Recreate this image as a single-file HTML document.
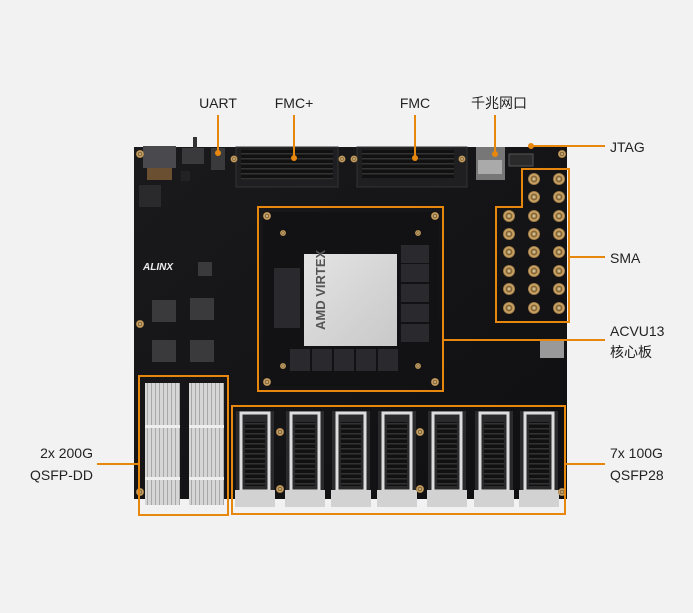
<!DOCTYPE html>
<html><head><meta charset="utf-8"><style>
html,body{margin:0;padding:0;background:#f2f2f2;}
svg{display:block}
text{font-family:"Liberation Sans","Noto Sans CJK SC",sans-serif;font-size:14px;fill:#222;}
</style></head><body>
<svg width="693" height="613" viewBox="0 0 693 613" xmlns="http://www.w3.org/2000/svg">
<defs>
<linearGradient id="bd" x1="0" y1="0" x2="1" y2="1"><stop offset="0" stop-color="#1a1a1c"/><stop offset="1" stop-color="#0f0f11"/></linearGradient>
<radialGradient id="gold"><stop offset="0" stop-color="#f0e0b0"/><stop offset="0.45" stop-color="#7a5a2a"/><stop offset="0.7" stop-color="#d9b070"/><stop offset="1" stop-color="#8a6a3a"/></radialGradient>
<linearGradient id="chip" x1="0" y1="0" x2="1" y2="1"><stop offset="0" stop-color="#e4e4e4"/><stop offset="1" stop-color="#c8c8c8"/></linearGradient>
<pattern id="fins" width="4" height="10" patternUnits="userSpaceOnUse"><rect width="4" height="10" fill="#d6d6d6"/><rect x="3" width="1" height="10" fill="#a8a8a8"/></pattern>
<pattern id="rows" width="10" height="5" patternUnits="userSpaceOnUse"><rect width="10" height="5" fill="#111"/><rect y="3" width="10" height="1.5" fill="#333"/></pattern>
</defs>
<rect width="693" height="613" fill="#f2f2f2"/>
<!-- board -->
<rect x="134" y="147" width="433" height="352" fill="url(#bd)"/>
<!-- top-left components -->
<rect x="143" y="146" width="33" height="22" fill="#4a4a4e"/>
<rect x="147" y="168" width="25" height="12" fill="#6a5030"/>
<rect x="182" y="148" width="22" height="16" fill="#3a3a3c"/>
<rect x="193" y="137" width="4" height="11" fill="#333"/>
<rect x="181" y="171" width="9" height="10" fill="#222"/>
<rect x="139" y="185" width="22" height="22" fill="#2a2a2c"/>
<rect x="211" y="148" width="14" height="22" fill="#3a3a3c"/>
<circle cx="140" cy="154" r="4" fill="url(#gold)"/>
<circle cx="140" cy="324" r="4" fill="url(#gold)"/>
<circle cx="562" cy="154" r="4" fill="url(#gold)"/>
<!-- FMC+ -->
<rect x="236" y="147" width="102" height="40" fill="#1f1f22" stroke="#333"/>
<rect x="241" y="150" width="92" height="30" fill="url(#rows)"/>
<circle cx="234" cy="159" r="3.5" fill="url(#gold)"/>
<circle cx="342" cy="159" r="3.5" fill="url(#gold)"/>
<!-- FMC -->
<rect x="357" y="147" width="110" height="40" fill="#1f1f22" stroke="#333"/>
<rect x="362" y="150" width="92" height="28" fill="url(#rows)"/>
<circle cx="354" cy="159" r="3.5" fill="url(#gold)"/>
<circle cx="462" cy="159" r="3.5" fill="url(#gold)"/>
<!-- ethernet -->
<rect x="476" y="147" width="29" height="33" fill="#777"/>
<rect x="478" y="160" width="24" height="14" fill="#aaa"/>
<rect x="509" y="154" width="24" height="12" fill="#2a2a2a" stroke="#555"/>
<text x="143" y="270" style="font-size:10px;font-weight:bold;font-style:italic;fill:#eee">ALINX</text>
<!-- small ICs left -->
<g fill="#3a3a3c"><rect x="152" y="300" width="24" height="22"/><rect x="190" y="298" width="24" height="22"/><rect x="152" y="340" width="24" height="22"/><rect x="190" y="340" width="24" height="22"/><rect x="198" y="262" width="14" height="14"/></g>
<!-- core board -->
<rect x="263" y="212" width="176" height="174" fill="#121214"/>
<rect x="304" y="254" width="93" height="92" fill="url(#chip)"/>
<text x="325" y="330" transform="rotate(-90 325 330)" style="font-size:13px;font-weight:bold;fill:#555">AMD VIRTEX</text>
<g fill="#2a2a2e"><rect x="274" y="268" width="26" height="30"/><rect x="274" y="298" width="26" height="30"/><rect x="401" y="245" width="28" height="18"/><rect x="401" y="264" width="28" height="18"/><rect x="401" y="284" width="28" height="18"/><rect x="401" y="304" width="28" height="18"/><rect x="401" y="324" width="28" height="18"/><rect x="290" y="349" width="20" height="22"/><rect x="312" y="349" width="20" height="22"/><rect x="334" y="349" width="20" height="22"/><rect x="356" y="349" width="20" height="22"/><rect x="378" y="349" width="20" height="22"/></g>
<circle cx="267" cy="216" r="4" fill="url(#gold)"/><circle cx="435" cy="216" r="4" fill="url(#gold)"/>
<circle cx="267" cy="382" r="4" fill="url(#gold)"/><circle cx="435" cy="382" r="4" fill="url(#gold)"/>
<circle cx="283" cy="233" r="3" fill="url(#gold)"/><circle cx="418" cy="233" r="3" fill="url(#gold)"/>
<circle cx="283" cy="366" r="3" fill="url(#gold)"/><circle cx="418" cy="366" r="3" fill="url(#gold)"/>
<!-- SMA -->
<g fill="url(#gold)">
<circle cx="534" cy="179" r="6"/><circle cx="559" cy="179" r="6"/>
<circle cx="534" cy="197" r="6"/><circle cx="559" cy="197" r="6"/>
<circle cx="509" cy="216" r="6"/><circle cx="534" cy="216" r="6"/><circle cx="559" cy="216" r="6"/>
<circle cx="509" cy="234" r="6"/><circle cx="534" cy="234" r="6"/><circle cx="559" cy="234" r="6"/>
<circle cx="509" cy="252" r="6"/><circle cx="534" cy="252" r="6"/><circle cx="559" cy="252" r="6"/>
<circle cx="509" cy="271" r="6"/><circle cx="534" cy="271" r="6"/><circle cx="559" cy="271" r="6"/>
<circle cx="509" cy="289" r="6"/><circle cx="534" cy="289" r="6"/><circle cx="559" cy="289" r="6"/>
<circle cx="509" cy="308" r="6"/><circle cx="534" cy="308" r="6"/><circle cx="559" cy="308" r="6"/>
</g>
<rect x="540" y="340" width="24" height="18" fill="#999"/>
<!-- QSFP-DD -->
<rect x="145" y="383" width="35" height="122" fill="url(#fins)"/>
<rect x="189" y="383" width="35" height="122" fill="url(#fins)"/>
<g fill="#eee"><rect x="145" y="425" width="35" height="3"/><rect x="189" y="425" width="35" height="3"/><rect x="145" y="477" width="35" height="3"/><rect x="189" y="477" width="35" height="3"/></g>
<!-- QSFP28 cages -->
<g id="cage">
<rect x="236" y="411" width="38" height="80" fill="#2a2a2c"/>
<rect x="241" y="413" width="28" height="78" fill="none" stroke="#ddd" stroke-width="3"/>
<rect x="245" y="422" width="20" height="64" fill="url(#rows)"/>
<rect x="235" y="490" width="40" height="17" fill="#d2d2d2"/>
</g>
<use href="#cage" x="50"/><use href="#cage" x="96"/><use href="#cage" x="142"/><use href="#cage" x="192"/><use href="#cage" x="239"/><use href="#cage" x="284"/>
<circle cx="280" cy="432" r="4" fill="url(#gold)"/><circle cx="280" cy="489" r="4" fill="url(#gold)"/>
<circle cx="420" cy="432" r="4" fill="url(#gold)"/><circle cx="420" cy="489" r="4" fill="url(#gold)"/>
<circle cx="140" cy="492" r="4" fill="url(#gold)"/><circle cx="562" cy="492" r="4" fill="url(#gold)"/>
<!-- orange callouts -->
<g fill="none" stroke="#e8870e" stroke-width="2">
<rect x="258" y="207" width="185" height="184"/>
<path d="M522 169 H569 V322 H496 V207 H522 Z"/>
<rect x="139" y="376" width="89" height="139"/>
<rect x="232" y="406" width="333" height="108"/>
<path d="M218 115 V153"/><path d="M294 115 V158"/><path d="M415 115 V158"/><path d="M495 115 V154"/>
<path d="M531 146 H605"/><path d="M569 257 H605"/><path d="M443 340 H605"/>
<path d="M97 464 H139"/><path d="M565 464 H605"/>
</g>
<g fill="#e8870e"><circle cx="218" cy="153" r="3"/><circle cx="294" cy="158" r="3"/><circle cx="415" cy="158" r="3"/><circle cx="495" cy="154" r="3"/><circle cx="531" cy="146" r="3"/></g>
<!-- labels -->
<text x="218" y="108" text-anchor="middle">UART</text>
<text x="294" y="108" text-anchor="middle">FMC+</text>
<text x="415" y="108" text-anchor="middle">FMC</text>
<text x="499" y="108" text-anchor="middle">千兆网口</text>
<text x="610" y="152">JTAG</text>
<text x="610" y="263">SMA</text>
<text x="610" y="336">ACVU13</text>
<text x="610" y="357">核心板</text>
<text x="93" y="458" text-anchor="end">2x 200G</text>
<text x="93" y="480" text-anchor="end">QSFP-DD</text>
<text x="610" y="458">7x 100G</text>
<text x="610" y="480">QSFP28</text>
</svg>
</body></html>
